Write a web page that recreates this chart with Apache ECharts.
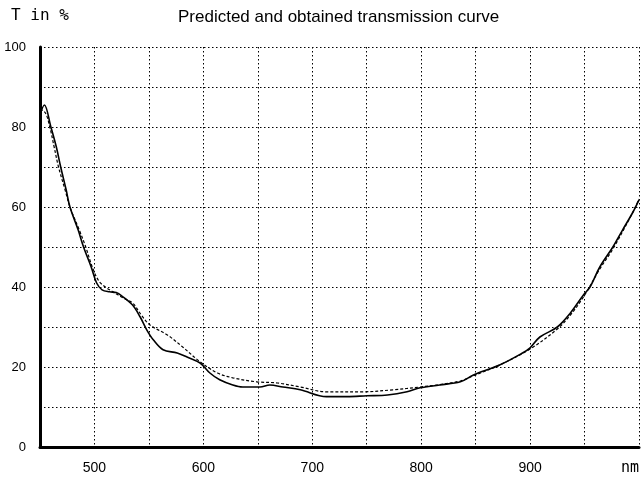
<!DOCTYPE html>
<html>
<head>
<meta charset="utf-8">
<script src="https://cdn.jsdelivr.net/npm/echarts@6/dist/echarts.min.js"></script>
<style>
  html, body { margin: 0; padding: 0; background: #fff; }
  #chart { width: 642px; height: 480px; }
</style>
</head>
<body>
<div id="chart"></div>
<script>
// obtained (measured) curve, solid
var obtainedNm = [450, 454, 460, 465, 469, 474, 477.5, 485, 490, 497, 502, 507, 514, 520, 525, 535, 542, 548, 554, 563,
    576, 585, 597, 606, 615, 627, 636, 652, 661, 673, 689, 713, 732, 750, 769, 787, 799, 817, 836, 848,
    872, 893, 900, 909, 925, 937, 949, 955, 964, 976, 985, 994, 1000];
var obtainedT = [83, 85.5, 80, 75, 70, 64.3, 60, 54.3, 50, 45, 41, 39.3, 38.8, 38.6, 37.8, 35.5, 32.5, 29.3, 26.8, 24.3,
    23.5, 22.5, 21, 18.5, 16.8, 15.5, 15, 15, 15.5, 15, 14.3, 12.6, 12.6, 12.8, 13, 13.8, 14.8, 15.5, 16.3, 18,
    20.5, 23.5, 24.8, 27.5, 30, 33.5, 38, 40, 45, 50, 54.3, 58.5, 61.8];

// predicted curve, dashed
var predictedNm = [450, 455, 459, 463, 467, 473, 477.5, 486, 492, 498, 504, 510, 517, 526, 535, 543, 551, 567, 581, 597,
    613, 627, 649, 668, 689, 713, 747, 774, 799, 817, 836, 848, 872, 900, 925, 937, 949, 964, 976, 994, 1000];
var predictedT = [84.5, 83.5, 80, 75, 70, 64.3, 60, 54.3, 50, 45, 41.5, 40, 38.8, 37.3, 36, 33, 30.5, 28, 25, 21.3,
    18.5, 17.3, 16.3, 16, 15, 13.8, 13.8, 14.3, 15, 15.6, 16.5, 17.8, 20.5, 24.5, 29.5, 33, 37.5, 44.5, 49.5, 58.5, 62];

var xLabelValues = [500, 600, 700, 800, 900];
var yLabelValues = [0, 20, 40, 60, 80, 100];

function pairs(xs, ys) {
    return xs.map(function (x, i) { return [x, ys[i]]; });
}

var chart = echarts.init(document.getElementById('chart'));
var gridLine = { show: true, lineStyle: { color: '#000', width: 1, type: [1.5, 2.5] } };
var options = {
    animation: false,
    backgroundColor: '#fff',
    title: {
        text: 'Predicted and obtained transmission curve',
        left: 178,
        top: 9,
        padding: 0,
        textStyle: { fontFamily: 'Liberation Sans', fontSize: 17, fontWeight: 'normal', color: '#000' }
    },
    grid: { left: 40, right: 3, top: 47, bottom: 33, containLabel: false, outerBoundsMode: 'none' },
    xAxis: {
        type: 'value',
        min: 450,
        max: 1000,
        interval: 50,
        axisLine: { show: true, onZero: false, lineStyle: { color: '#000', width: 3 } },
        axisTick: { show: false },
        splitLine: gridLine,
        axisLabel: {
            margin: 14,
            color: '#000',
            fontFamily: 'Liberation Sans',
            fontSize: 14,
            alignMaxLabel: 'right',
            showMinLabel: true,
            showMaxLabel: true,
            formatter: function (v) {
                if (v === 1000) return '{u|nm}';
                return xLabelValues.indexOf(v) >= 0 ? String(v) : '';
            },
            rich: { u: { fontFamily: 'DejaVu Sans Mono', fontSize: 15, color: '#000' } }
        }
    },
    yAxis: {
        type: 'value',
        min: 0,
        max: 100,
        interval: 10,
        name: 'T in %',
        nameLocation: 'end',
        nameGap: 31,
        nameTextStyle: { fontFamily: 'DejaVu Sans Mono', fontSize: 16, color: '#000', align: 'center', verticalAlign: 'middle' },
        axisLine: { show: true, lineStyle: { color: '#000', width: 3 } },
        axisTick: { show: false },
        splitLine: gridLine,
        axisLabel: {
            margin: 14,
            color: '#000',
            fontFamily: 'Liberation Sans',
            fontSize: 13,
            formatter: function (v) {
                return yLabelValues.indexOf(v) >= 0 ? String(v) : '';
            }
        }
    },
    series: [
        {
            name: 'Obtained',
            type: 'line',
            data: pairs(obtainedNm, obtainedT),
            showSymbol: false,
            smooth: 0.35,
            lineStyle: { color: '#000', width: 1.6, type: 'solid' },
            z: 3
        },
        {
            name: 'Predicted',
            type: 'line',
            data: pairs(predictedNm, predictedT),
            showSymbol: false,
            smooth: 0.35,
            lineStyle: { color: '#000', width: 1.2, type: [3, 2] },
            z: 2
        }
    ]
};
chart.setOption(options);
</script>
</body>
</html>
